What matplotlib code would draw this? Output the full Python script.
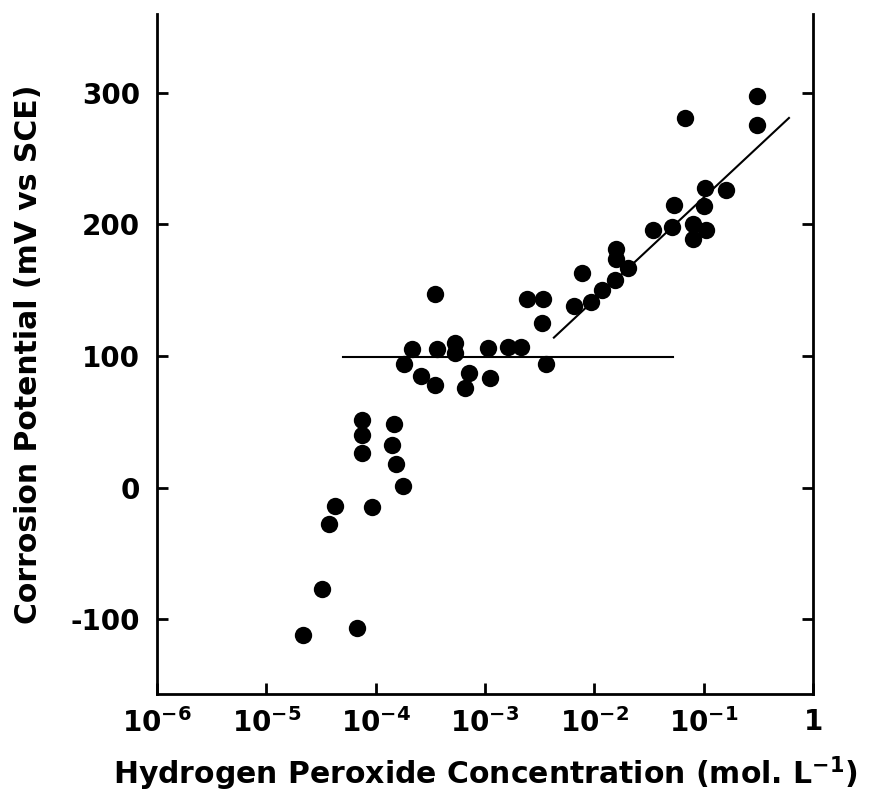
import numpy as np
import matplotlib
matplotlib.use("Agg")
import matplotlib.pyplot as plt

plt.rcParams['font.family'] = ['DejaVu Sans']
plt.rcParams['font.weight'] = 'bold'
plt.rcParams['mathtext.default'] = 'bf'
plt.rcParams['axes.unicode_minus'] = False

# log10 of H2O2 concentration (mol/L) and corrosion potential (mV vs SCE)
log_conc = [-4.669, -4.175, -4.495, -4.431, -4.373, -4.038,
            -4.129, -4.129, -4.129, -3.836, -3.851, -3.814, -3.747,
            -3.745, -3.671, -3.589, -3.461, -3.457, -3.442, -3.277, -3.277,
            -3.149, -3.179, -2.975, -2.953, -2.792, -2.669, -2.614, -2.465,
            -2.481, -2.444, -2.114, -2.188, -2.026, -1.928, -1.815, -1.799,
            -1.799, -1.693, -1.464, -1.287, -1.272, -1.174, -1.098, -1.098,
            -0.975, -1.000, -0.991, -0.792, -0.508, -0.508]
potential = [-112, -107, -77, -28, -14, -15,
             51, 40, 26, 48, 32, 18, 1,
             94, 105, 85, 78, 147, 105, 110, 102,
             87, 76, 106, 83, 107, 107, 143, 143,
             125, 94, 163, 138, 141, 150, 158, 181,
             174, 167, 196, 198, 215, 281, 200, 189,
             196, 214, 228, 226, 298, 276]

# fitted lines (log10 conc, mV)
plateau_x = [-4.30, -1.28]
plateau_y = [99, 99]
slope_x = [-2.37, -0.22]
slope_y = [114, 281]

xticks = [1e-6, 1e-5, 1e-4, 1e-3, 1e-2, 1e-1, 1]
xticklabels = [r'$10^{-6}$', r'$10^{-5}$', r'$10^{-4}$', r'$10^{-3}$',
               r'$10^{-2}$', r'$10^{-1}$', '1']
yticks = [-100, 0, 100, 200, 300]

fig = plt.figure(figsize=(8.76, 7.99), dpi=100)
ax = fig.add_axes([0.1792, 0.1314, 0.7489, 0.851])

conc = 10 ** np.array(log_conc)
ax.plot(conc, potential, 'o', color='black', ms=12.5, mew=0)
ax.plot(10 ** np.array(plateau_x), plateau_y, '-', color='black', lw=1.5)
ax.plot(10 ** np.array(slope_x), slope_y, '-', color='black', lw=1.5)

ax.set_xscale('log')
ax.set_xlim(1e-6, 1)
ax.set_ylim(-157, 360)
ax.set_xticks(xticks)
ax.set_xticklabels(xticklabels)
ax.minorticks_off()
ax.set_yticks(yticks)

ax.spines['top'].set_visible(False)
for s in ['left', 'right', 'bottom']:
    ax.spines[s].set_linewidth(2)
ax.tick_params(axis='both', direction='in', length=8, width=2,
               labelsize=20, right=True, top=False)
ax.tick_params(axis='y', pad=12)
ax.tick_params(axis='x', pad=10)

ax.set_xlabel(r'Hydrogen Peroxide Concentration (mol. L$^{-1}$)',
              fontsize=21.5, fontweight='bold', labelpad=12)
ax.set_ylabel('Corrosion Potential (mV vs SCE)', fontsize=21.5,
              fontweight='bold', labelpad=20)

fig.savefig('out.png', dpi=100, facecolor='white')
